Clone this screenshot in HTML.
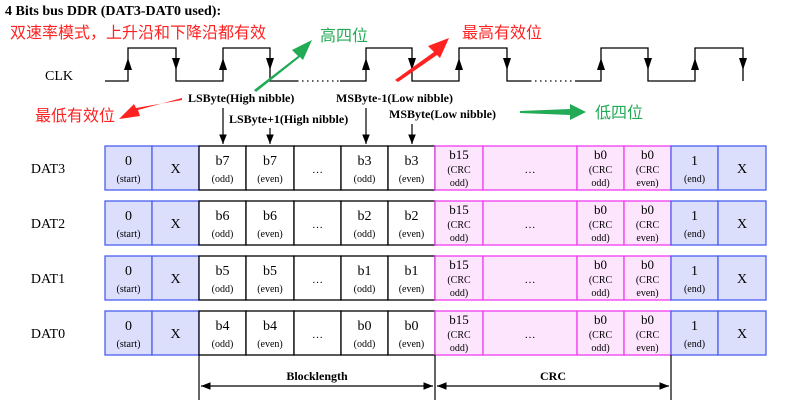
<!DOCTYPE html><html><head><meta charset="utf-8"><style>body{margin:0;background:#fff}svg{display:block}</style></head><body>
<svg width="804" height="404" xmlns="http://www.w3.org/2000/svg" font-family="Liberation Serif, serif">
<defs>
<marker id="ah" viewBox="0 0 10 10" refX="10" refY="5" markerWidth="8" markerHeight="8" orient="auto-start-reverse"><path d="M0,1 L10,5 L0,9z" fill="#000"/></marker>
</defs>
<text x="5" y="15" font-size="14" font-weight="bold">4 Bits bus DDR (DAT3-DAT0 used):</text>
<text x="10" y="38" font-size="16" fill="#f22" font-family="Liberation Sans, Noto Sans CJK SC, sans-serif">双速率模式，上升沿和下降沿都有效</text>
<text x="320" y="41" font-size="16" fill="#2a5" font-family="Liberation Sans, Noto Sans CJK SC, sans-serif">高四位</text>
<text x="462" y="38" font-size="16" fill="#f22" font-family="Liberation Sans, Noto Sans CJK SC, sans-serif">最高有效位</text>
<text x="35" y="121" font-size="16" fill="#f22" font-family="Liberation Sans, Noto Sans CJK SC, sans-serif">最低有效位</text>
<text x="595" y="118" font-size="16" fill="#2a5" font-family="Liberation Sans, Noto Sans CJK SC, sans-serif">低四位</text>
<text x="45" y="80" font-size="14">CLK</text>
<g stroke="#000" stroke-width="1.3" fill="none">
<path d="M105,81 H128 V48 H176 V81 H223 V48 H270 V81 H297"/>
<path d="M297,81 H340" stroke-dasharray="1.5,3.5"/>
<path d="M340,81 H366 V48 H412 V81 H459 V48 H507 V81 H530"/>
<path d="M530,81 H575" stroke-dasharray="1.5,3.5"/>
<path d="M575,81 H601 V48 H648 V81 H695 V48 H743 V81"/>
</g>
<g fill="#000">
<path d="M124,70 L132,70 L128,58z"/><path d="M219,70 L227,70 L223,58z"/><path d="M362,70 L370,70 L366,58z"/><path d="M455,70 L463,70 L459,58z"/><path d="M597,70 L605,70 L601,58z"/><path d="M691,70 L699,70 L695,58z"/>
<path d="M172,58 L180,58 L176,70z"/><path d="M266,58 L274,58 L270,70z"/><path d="M408,58 L416,58 L412,70z"/><path d="M503,58 L511,58 L507,70z"/><path d="M644,58 L652,58 L648,70z"/><path d="M739,58 L747,58 L743,70z"/>
</g>
<g font-size="12" font-weight="bold">
<text x="188" y="102">LSByte(High nibble)</text>
<text x="229" y="123">LSByte+1(High nibble)</text>
<text x="336" y="102">MSByte-1(Low nibble)</text>
<text x="389" y="118">MSByte(Low nibble)</text>
</g>
<g stroke="#000" stroke-width="1.2">
<line x1="223" y1="108" x2="223" y2="144" marker-end="url(#ah)"/>
<line x1="270" y1="128" x2="270" y2="144" marker-end="url(#ah)"/>
<line x1="366" y1="108" x2="366" y2="144" marker-end="url(#ah)"/>
<line x1="412" y1="124" x2="412" y2="144" marker-end="url(#ah)"/>
</g>
<path d="M254,90 L298,56 L292,50 L312,40 L303,60 L300,57 L256,92z" fill="#2a5"/>
<path d="M395,80 L434,52 L428,46 L449,38 L440,58 L437,55 L398,82z" fill="#f22"/>
<path d="M182,98 L138,110 L140,116 L119,119 L134,104 L136,108 L182,100z" fill="#f22"/>
<path d="M520,111 L570,109 L570,104 L586,112 L570,120 L570,115 L520,113z" fill="#2a5"/>
<g id="rows" font-size="13" text-anchor="middle"></g>
<g stroke="#000" stroke-width="1.2">
<line x1="199" y1="355" x2="199" y2="400"/><line x1="435" y1="355" x2="435" y2="400"/><line x1="671" y1="355" x2="671" y2="400"/>
<line x1="201" y1="386" x2="433" y2="386" marker-end="url(#ah)" marker-start="url(#ah)"/>
<line x1="437" y1="386" x2="669" y2="386" marker-end="url(#ah)" marker-start="url(#ah)"/>
</g>
<text x="317" y="380" font-size="12" font-weight="bold" text-anchor="middle">Blocklength</text>
<text x="553" y="380" font-size="12" font-weight="bold" text-anchor="middle">CRC</text>
<script>
var g=document.getElementById('rows'),ns='http://www.w3.org/2000/svg';
var rows=[['DAT3','b7','b3'],['DAT2','b6','b2'],['DAT1','b5','b1'],['DAT0','b4','b0']];
var xs=[105,152,199,246,294,341,388,435,483,577,624,671,718,766];
function el(t,a,txt){var e=document.createElementNS(ns,t);for(var k in a)e.setAttribute(k,a[k]);if(txt)e.textContent=txt;g.appendChild(e);return e;}
rows.forEach(function(r,i){var y=146+i*55,h=44;
el('text',{x:48,y:y+27,'font-size':14},r[0]);
var cells=[['0','(start)','b'],['X','','b'],[r[1],'(odd)','w'],[r[1],'(even)','w'],['…','','w'],[r[2],'(odd)','w'],[r[2],'(even)','w'],
['b15','(CRC|odd)','p'],['…','','p'],['b0','(CRC|odd)','p'],['b0','(CRC|even)','p'],['1','(end)','b'],['X','','b']];
var fill={b:'#dcdffc',w:'#fff',p:'#fde6fd'},st={b:'#4a5ff0',w:'#000',p:'#f03cf0'};
cells.forEach(function(c,j){var x=xs[j],w=xs[j+1]-x;
el('rect',{x:x,y:y,width:w,height:h,fill:fill[c[2]],stroke:st[c[2]],'stroke-width':1.3});});
cells.forEach(function(c,j){var x=xs[j],w=xs[j+1]-x,cx=x+w/2;
if(c[2]=='p'&&c[1]){var p=c[1].split('|');el('text',{x:cx,y:y+13,'font-size':13},c[0]);el('text',{x:cx,y:y+27,'font-size':10},p[0]);el('text',{x:cx,y:y+40,'font-size':10},p[1]);}
else if(c[1]){el('text',{x:cx,y:y+19,'font-size':14},c[0]);el('text',{x:cx,y:y+36,'font-size':10},c[1]);}
else el('text',{x:cx,y:y+27,'font-size':c[0]=='X'?14:11},c[0]);});
});
</script>
</svg></body></html>
